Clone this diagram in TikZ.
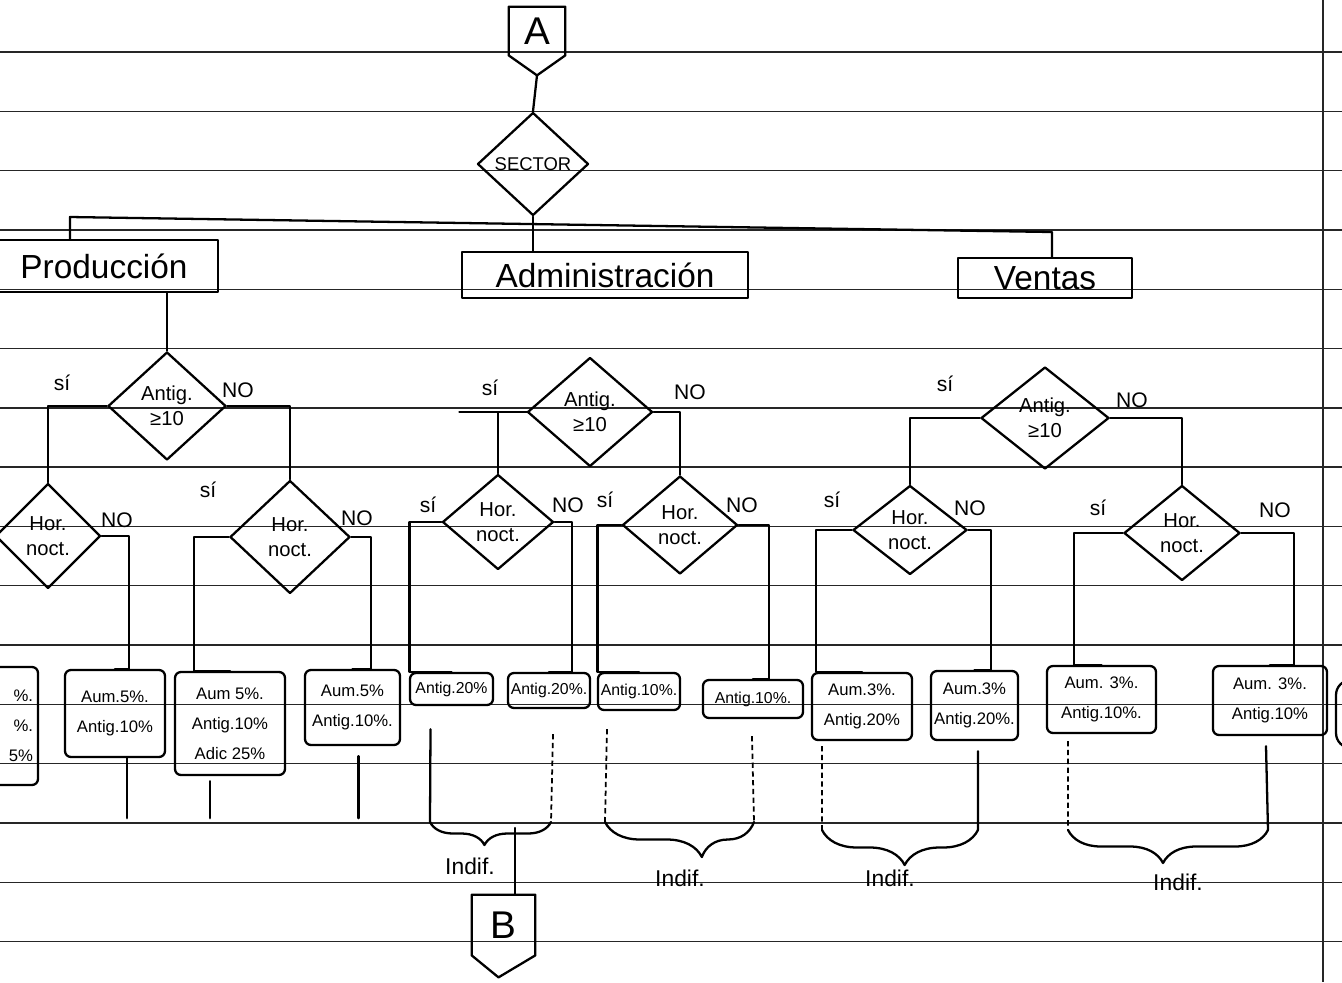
\documentclass[tikz,border=0pt]{standalone}
\usepackage{fontspec}
\setmainfont{Liberation Sans}
\usetikzlibrary{calc,decorations.pathreplacing,shapes.geometric}
\begin{document}
\begin{tikzpicture}[x=0.2mm,y=-0.2mm,
  pen/.style={line width=1.3pt, line cap=round, line join=round},
  ruled/.style={line width=0.8pt, black!85},
  dots/.style={line width=1pt, dash pattern=on 3pt off 2pt},
  dec/.style={diamond, draw, pen, inner sep=0pt, align=center, font=\fontsize{11.5}{14}\selectfont},
  res/.style={draw, pen, rounded corners=1.2mm, inner sep=0pt, align=center, font=\fontsize{9.5}{17}\selectfont},
  resone/.style={res, font=\fontsize{9}{11}\selectfont},
  sect/.style={draw, pen, inner sep=0pt, font=\fontsize{19}{21}\selectfont},
  offp/.style={inner sep=0pt, font=\fontsize{22}{22}\selectfont},
  lbl/.style={inner sep=1pt, font=\fontsize{12}{14}\selectfont},
  ind/.style={inner sep=1pt, font=\fontsize{13}{15}\selectfont},
  brc/.style={pen, decorate}
]
\useasboundingbox (0,0) rectangle (1342,982);
\fill[white] (0,0) rectangle (1342,982);
\clip (0,0) rectangle (1342,982);

% ruled paper
\foreach \k in {0,...,15} \draw[ruled] (0,{52+59.3*\k}) -- (1342,{52+59.3*\k});
\draw[ruled] (1323,0) -- (1323,982);

% off-page connector A
\node[offp, minimum width=11.2mm, minimum height=9.6mm] (A) at (537,31) {A};
\coordinate (Atip) at ($(A.south)+(0,20)$);
\draw[pen] (A.south west) -- (A.north west) -- (A.north east) -- (A.south east) -- (Atip) -- cycle;

% sector decision
\node[dec, minimum width=22.2mm, minimum height=20.6mm, font=\fontsize{10.5}{12}\selectfont] (sector) at (533,164) {SECTOR};
\draw[pen] (Atip) -- (sector.north);

% sectors
\node[sect, minimum width=45.6mm, minimum height=10.4mm] (prod) at (104,266) {Producción};
\node[sect, minimum width=57.2mm, minimum height=9.2mm] (admin) at (605,275) {Administración};
\node[sect, minimum width=34.8mm, minimum height=8mm] (ventas) at (1045,278) {Ventas};
\coordinate (busL) at (70,217);
\coordinate (busR) at (1052,232);
\draw[pen] (busL |- prod.north) -- (busL) -- (busR) -- (busR |- ventas.north);
\draw[pen] (sector.south) -- (sector.south |- admin.north);

% antiguedad decisions
\node[dec, minimum width=23.6mm, minimum height=21.6mm] (pAnt) at (167,406) {Antig.\\≥10};
\node[dec, minimum width=25mm, minimum height=21.8mm] (aAnt) at (590,412) {Antig.\\≥10};
\node[dec, minimum width=25.6mm, minimum height=20.4mm] (vAnt) at (1045,418) {Antig.\\≥10};
\draw[pen] (pAnt.north |- prod.south) -- (pAnt.north);

% horario nocturno decisions
\node[dec, minimum width=21mm, minimum height=21mm] (pH1) at (48,536) {Hor.\\noct.};
\node[dec, minimum width=24mm, minimum height=22.6mm] (pH2) at (290,537) {Hor.\\noct.};
\node[dec, minimum width=22.2mm, minimum height=19mm] (aH1) at (498,522) {Hor.\\noct.};
\node[dec, minimum width=23mm, minimum height=19.6mm] (aH2) at (680,525) {Hor.\\noct.};
\node[dec, minimum width=22.8mm, minimum height=17.8mm] (vH1) at (910,530) {Hor.\\noct.};
\node[dec, minimum width=23.2mm, minimum height=19mm] (vH2) at (1182,533) {Hor.\\noct.};

\draw[pen] (pAnt.west) -| (pH1.north);
\draw[pen] (pAnt.east) -| (pH2.north);
\draw[pen] (aAnt.west) -- ++(-67,0);
\draw[pen] (aAnt.west) -| (aH1.north);
\draw[pen] (aAnt.east) -| (aH2.north);
\draw[pen] (vAnt.west) -| (vH1.north);
\draw[pen] (vAnt.east) -| (vH2.north);

% branch labels
\node[lbl] (l1) at (62,383) {sí};
\node[lbl] (l2) at (238,390) {NO};
\node[lbl] (l3) at (490,388) {sí};
\node[lbl] (l4) at (690,392) {NO};
\node[lbl] (l5) at (945,384) {sí};
\node[lbl] (l6) at (1132,400) {NO};
\node[lbl] (l7) at (117,520) {NO};
\node[lbl] (l8) at (208,490) {sí};
\node[lbl] (l9) at (357,518) {NO};
\node[lbl] (l10) at (428,505) {sí};
\node[lbl] (l11) at (568,505) {NO};
\node[lbl] (l12) at (605,500) {sí};
\node[lbl] (l13) at (742,505) {NO};
\node[lbl] (l14) at (832,500) {sí};
\node[lbl] (l15) at (970,508) {NO};
\node[lbl] (l16) at (1098,508) {sí};
\node[lbl] (l17) at (1275,510) {NO};

% result boxes
\node[res, minimum width=21.6mm, minimum height=23.6mm, text width=19.6mm, align=right] (p1) at (-16,726) {\%.\\\%.\\5\%};
\node[res, minimum width=20mm, minimum height=17.4mm] (p2) at (115,713.5) {Aum.5\%.\\Antig.10\%};
\node[res, minimum width=22mm, minimum height=20.6mm] (p3) at (230,723.5) {Aum 5\%.\\Antig.10\%\\Adic 25\%};
\node[res, minimum width=19mm, minimum height=15mm] (p4) at (352.5,707.5) {Aum.5\%\\Antig.10\%.};
\node[resone, minimum width=16.6mm, minimum height=6.4mm] (a1) at (451.5,689) {Antig.20\%};
\node[resone, minimum width=16.4mm, minimum height=7mm] (a2) at (549,690.5) {Antig.20\%.};
\node[resone, minimum width=16.4mm, minimum height=7.4mm] (a3) at (639,691.5) {Antig.10\%.};
\node[resone, minimum width=20mm, minimum height=7.6mm] (a4) at (753,699) {Antig.10\%.};
\node[res, minimum width=20mm, minimum height=13.4mm] (v1) at (862,706.5) {Aum.3\%.\\Antig.20\%};
\node[res, minimum width=17.4mm, minimum height=13.8mm] (v2) at (974.5,705.5) {Aum.3\%\\Antig.20\%.};
\node[res, minimum width=21.8mm, minimum height=13.4mm] (v3) at (1101.5,699.5) {Aum. 3\%.\\Antig.10\%.};
\node[res, minimum width=22.8mm, minimum height=13.8mm] (v4) at (1270,700.5) {Aum. 3\%.\\Antig.10\%};
\draw[pen, rounded corners=3mm] (1420,680) -- (1336,680) -- (1336,748) -- (1420,748);

\draw[pen] (pH1.east) -- ++(27,0) |- (p2.north);
\draw[pen] (pH2.west) -- ++(-35,0) |- (p3.north);
\draw[pen] (pH2.east) -- ++(20,0) |- (p4.north);
\draw[pen] (aH1.west) -- ++(-32,0) |- (a1.north);
\draw[pen] (aH1.east) -- ++(17,0) |- (a2.north);
\draw[pen] (aH2.west) -- ++(-24,0) |- (a3.north);
\draw[pen] (aH2.east) -- ++(30,0) |- (a4.north);
\draw[pen] (vH1.west) -- ++(-36,0) |- (v1.north);
\draw[pen] (vH1.east) -- ++(23,0) |- (v2.north);
\draw[pen] (vH2.west) -- ++(-49,0) |- (v3.north);
\draw[pen] (vH2.east) -- ++(53,0) |- (v4.north);

% produccion outputs
\draw[pen] ([xshift=2.4mm]p2.south) -- ++(0,60);
\draw[pen] ([xshift=-4mm,yshift=-1mm]p3.south) -- ++(0,37);
\draw[pen] ([xshift=1.2mm,yshift=-2mm]p4.south) -- ++(0,62);

% administracion outputs
\coordinate (ab1L) at (430,822);
\coordinate (ab1R) at (551,822);
\coordinate (ab2L) at (605,822);
\coordinate (ab2R) at (754,822);
\draw[pen] ([xshift=-4.2mm,yshift=-4.6mm]a1.south) -- (ab1L);
\draw[dots] ([xshift=0.8mm,yshift=-5mm]a2.south) -- (ab1R);
\draw[dots] ([xshift=-6.4mm,yshift=-3.6mm]a3.south) -- (ab2L);
\draw[dots] ([xshift=-0.2mm,yshift=-3.4mm]a4.south) -- (ab2R);
\draw[brc, decoration={brace, mirror, amplitude=4.6mm, aspect=0.45}] (ab1L) -- (ab1R);
\draw[brc, decoration={brace, mirror, amplitude=7mm, aspect=0.65}] (ab2L) -- (ab2R);

% ventas outputs
\coordinate (vb1L) at (822,830);
\coordinate (vb1R) at (978,830);
\coordinate (vb2L) at (1068,830);
\coordinate (vb2R) at (1268,830);
\draw[dots] ([xshift=-8mm,yshift=-1mm]v1.south) -- (vb1L);
\draw[pen] ([xshift=0.7mm,yshift=-2mm]v2.south) -- (vb1R);
\draw[dots] ([xshift=-6.7mm,yshift=-1.4mm]v3.south) -- (vb2L);
\draw[pen] ([xshift=-0.8mm,yshift=-2mm]v4.south) -- (vb2R);
\draw[brc, decoration={brace, mirror, amplitude=7mm, aspect=0.53}] (vb1L) -- (vb1R);
\draw[brc, decoration={brace, mirror, amplitude=6.6mm, aspect=0.475}] (vb2L) -- (vb2R);

% indiferente labels
\node[ind] (i1) at (470,866) {Indif.};
\node[ind] (i2) at (680,878) {Indif.};
\node[ind] (i3) at (890,878) {Indif.};
\node[ind] (i4) at (1178,882) {Indif.};

% off-page connector B
\node[offp, minimum width=12.6mm, minimum height=12mm] (B) at (503.5,925) {B};
\coordinate (Btip) at ($(B.south)+(-5,22)$);
\draw[pen] (B.south west) -- (B.north west) -- (B.north east) -- (B.south east) -- (Btip) -- cycle;
\coordinate (bm) at (515,828);
\draw[pen] (bm) -- (bm |- B.north);
\end{tikzpicture}
\end{document}
